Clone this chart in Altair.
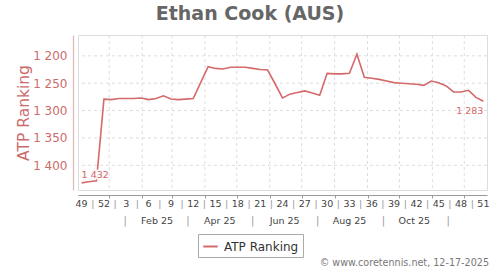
import altair as alt
import pandas as pd
from datetime import date

TITLE = "Ethan Cook (AUS)"
SERIES = "ATP Ranking"
COPYRIGHT = "\u00a9 www.coretennis.net, 12-17-2025"

# ISO week numbers, week 49 of 2024 through week 51 of 2025
week_numbers = [49, 50, 51, 52,
                1, 2, 3, 4, 5, 6, 7, 8, 9, 10, 11, 12, 13, 14, 15, 16, 17,
                18, 19, 20, 21, 22, 23, 24, 25, 26, 27, 28, 29, 30, 31, 32,
                33, 34, 35, 36, 37, 38, 39, 40, 41, 42, 43, 44, 45, 46, 47,
                48, 49, 50, 51]
rankings = [1432, 1430, 1428, 1279, 1280, 1278, 1278, 1278, 1277, 1280,
            1278, 1273, 1279, 1280, 1279, 1278, 1249, 1220, 1223, 1224,
            1221, 1221, 1221, 1223, 1225, 1226, 1251, 1277, 1270, 1267,
            1264, 1268, 1272, 1232, 1233, 1233, 1232, 1197, 1239, 1241,
            1243, 1246, 1249, 1250, 1251, 1252, 1254, 1246, 1249, 1255,
            1266, 1266, 1263, 1276, 1283]
first_week_date = date(2024, 12, 6)
origin = date(2025, 1, 1)

y_ticks = [1200, 1250, 1300, 1350, 1400]
y_domain = [1162, 1445]
x_domain = [-29.4, 355.4]

month_labels = ["Feb 25", "Apr 25", "Jun 25", "Aug 25", "Oct 25"]
month_label_dates = [date(2025, 2, 15), date(2025, 4, 15), date(2025, 6, 15),
                     date(2025, 8, 15), date(2025, 10, 15)]
month_sep_dates = [date(2025, 1, 16), date(2025, 3, 16), date(2025, 5, 16),
                   date(2025, 7, 16), date(2025, 9, 16), date(2025, 11, 16)]
month_start_dates = [date(2025, m, 1) for m in range(1, 13)]

LINE_COLOR = "#d46a6a"
AXIS_RED = "#cc6b6b"
FONT = "DejaVu Sans"


def day(d):
    return (d - origin).days


def fmt(v):
    return f"{v:,}".replace(",", " ")


week_days = [day(first_week_date) + 7 * k for k in range(len(rankings))]

df_line = pd.DataFrame({"day": week_days, "rank": rankings, "series": SERIES})
df_wlab = pd.DataFrame({"day": [week_days[k] for k in range(0, len(week_days), 3)],
                        "txt": [str(week_numbers[k]) for k in range(0, len(week_days), 3)]})
df_wsep = pd.DataFrame({"day": [week_days[k] + 10.5 for k in range(0, len(week_days) - 3, 3)],
                        "txt": "|"})
df_mlab = pd.DataFrame({"day": [day(d) for d in month_label_dates], "txt": month_labels})
df_msep = pd.DataFrame({"day": [day(d) for d in month_sep_dates], "txt": "|"})
df_vgrid = pd.DataFrame({"day": [day(d) for d in month_start_dates]})
df_hgrid = pd.DataFrame({"rank": y_ticks})
df_first = pd.DataFrame({"day": [week_days[0]], "rank": [rankings[0]], "txt": [fmt(rankings[0])]})
df_last = pd.DataFrame({"day": [week_days[-1]], "rank": [rankings[-1]], "txt": [fmt(rankings[-1])]})
df_copy = pd.DataFrame({"txt": [COPYRIGHT]})

xscale = alt.Scale(domain=x_domain, nice=False, zero=False)
yscale = alt.Scale(domain=y_domain, reverse=True, nice=False, zero=False)

xaxis = alt.Axis(title=None, labels=False, grid=False, values=[day(d) for d in month_start_dates],
                 tickSize=3, tickColor="#999999", domainColor="#999999", domainWidth=1.2, offset=5)
yaxis = alt.Axis(title=SERIES, values=y_ticks, grid=False,
                 labelExpr="replace(format(datum.value, ','), ',', ' ')",
                 labelColor=AXIS_RED, labelFontSize=12, labelFont=FONT, labelPadding=6,
                 titleColor=AXIS_RED, titleFontSize=15.5, titleFontWeight="normal", titleFont=FONT,
                 titlePadding=1, domainColor="#e3b3b3", domainWidth=1.2, tickSize=0, offset=5)


def X(field="day"):
    return alt.X(f"{field}:Q", scale=xscale, axis=xaxis)


def Y(field="rank"):
    return alt.Y(f"{field}:Q", scale=yscale, axis=yaxis)


hgrid = alt.Chart(df_hgrid).mark_rule(color="#dddddd", strokeDash=[3, 3], strokeWidth=1).encode(y=Y())
vgrid = alt.Chart(df_vgrid).mark_rule(color="#dddddd", strokeDash=[3, 3], strokeWidth=1).encode(x=X())

line = alt.Chart(df_line).mark_line(strokeWidth=1.6).encode(
    x=X(), y=Y(),
    color=alt.Color("series:N", scale=alt.Scale(range=[LINE_COLOR]),
                    legend=alt.Legend(title=None, orient="none", legendX=120, legendY=199,
                                      strokeColor="#aaaaaa", padding=4, fillColor="#ffffff",
                                      symbolType="stroke", symbolSize=210, symbolStrokeWidth=2,
                                      labelFontSize=12, labelFont=FONT, labelColor="#333333",
                                      labelOffset=5)))

first_halo = alt.Chart(df_first).mark_text(align="left", baseline="bottom", dy=-3, fontSize=9.5, font=FONT,
                                           stroke="#fafafa", strokeWidth=3, color="#fafafa").encode(
    x=X(), y=Y(), text="txt:N")
first_lab = alt.Chart(df_first).mark_text(align="left", baseline="bottom", dy=-3, fontSize=9.5, font=FONT,
                                          color=LINE_COLOR).encode(x=X(), y=Y(), text="txt:N")
last_lab = alt.Chart(df_last).mark_text(align="right", baseline="top", dy=5, fontSize=9.5, font=FONT,
                                        color=LINE_COLOR).encode(x=X(), y=Y(), text="txt:N")

wlab = alt.Chart(df_wlab).mark_text(fontSize=9.5, font=FONT, color="#444444", baseline="middle").encode(
    x=X(), y=alt.value(169), text="txt:N")
wsep = alt.Chart(df_wsep).mark_text(fontSize=9.5, font=FONT, color="#999999", baseline="middle").encode(
    x=X(), y=alt.value(169), text="txt:N")
mlab = alt.Chart(df_mlab).mark_text(fontSize=9.5, font=FONT, color="#444444", baseline="middle").encode(
    x=X(), y=alt.value(186), text="txt:N")
msep = alt.Chart(df_msep).mark_text(fontSize=10, font=FONT, color="#999999", baseline="middle").encode(
    x=X(), y=alt.value(186), text="txt:N")
copy = alt.Chart(df_copy).mark_text(fontSize=9.6, font=FONT, color="#777777", align="right",
                                    baseline="middle").encode(
    x=alt.value(411), y=alt.value(228), text="txt:N")

chart = alt.layer(hgrid, vgrid, line, first_halo, first_lab, last_lab, wlab, wsep, mlab, msep, copy).properties(
    width=409, height=155,
    title=alt.TitleParams(TITLE, fontSize=19, fontWeight="bold", color="#666666", font=FONT,
                          anchor="middle", dx=-32.5, dy=21, offset=13, baseline="bottom"),
    autosize=alt.AutoSizeParams(type="none"),
    padding={"left": 78, "top": 35, "right": 13, "bottom": 80},
).configure_view(stroke="#888888", strokeWidth=1.5, fill="#fafafa").configure(font=FONT)

chart.save("out.html", embed_options={"renderer": "svg", "actions": False})
